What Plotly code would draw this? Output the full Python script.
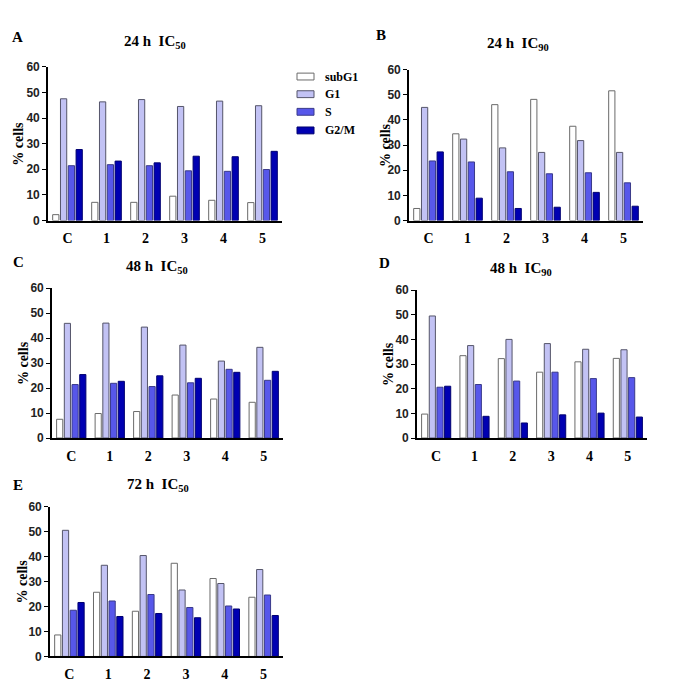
import plotly.graph_objects as go

W = H = 685

categories = ["C", "1", "2", "3", "4", "5"]
phases = ["subG1", "G1", "S", "G2/M"]

# Panel A: 24 h IC50
a_subG1 = [2.3, 7.1, 7.1, 9.5, 7.9, 7.0]
a_G1 = [47.5, 46.3, 47.2, 44.5, 46.6, 44.8]
a_S = [21.4, 21.8, 21.4, 19.4, 19.2, 19.9]
a_G2M = [27.7, 23.2, 22.5, 25.1, 24.9, 27.0]

# Panel B: 24 h IC90
b_subG1 = [4.8, 34.5, 46.1, 48.2, 37.5, 51.6]
b_G1 = [45.0, 32.4, 28.9, 27.1, 31.8, 27.1]
b_S = [23.7, 23.3, 19.4, 18.6, 19.0, 15.0]
b_G2M = [27.3, 8.9, 4.8, 5.3, 11.2, 5.7]

# Panel C: 48 h IC50
c_subG1 = [7.5, 9.8, 10.6, 17.2, 15.6, 14.3]
c_G1 = [45.9, 46.0, 44.4, 37.2, 30.8, 36.3]
c_S = [21.4, 21.9, 20.6, 22.1, 27.5, 23.1]
c_G2M = [25.4, 22.7, 24.9, 23.9, 26.3, 26.7]

# Panel D: 48 h IC90
d_subG1 = [9.7, 33.4, 32.2, 26.7, 30.9, 32.3]
d_G1 = [49.5, 37.5, 40.0, 38.3, 36.0, 35.8]
d_S = [20.6, 21.7, 23.1, 26.7, 24.1, 24.5]
d_G2M = [21.0, 8.8, 6.1, 9.4, 10.1, 8.5]

# Panel E: 72 h IC50
e_subG1 = [8.6, 25.7, 18.1, 37.3, 31.2, 23.7]
e_G1 = [50.5, 36.5, 40.4, 26.6, 29.2, 34.8]
e_S = [18.5, 22.2, 24.8, 19.6, 20.2, 24.6]
e_G2M = [21.6, 16.0, 17.2, 15.5, 19.0, 16.4]

panel_letters = ["A", "B", "C", "D", "E"]
panel_titles = ["24 h  IC<sub>50</sub>", "24 h  IC<sub>90</sub>", "48 h  IC<sub>50</sub>",
                "48 h  IC<sub>90</sub>", "72 h  IC<sub>50</sub>"]
y_ticks = [0, 10, 20, 30, 40, 50, 60]
y_title = "% cells"

panels_data = [
    [a_subG1, a_G1, a_S, a_G2M],
    [b_subG1, b_G1, b_S, b_G2M],
    [c_subG1, c_G1, c_S, c_G2M],
    [d_subG1, d_G1, d_S, d_G2M],
    [e_subG1, e_G1, e_S, e_G2M],
]

# styling
fill_colors = ["#ffffff", "#c2c2f4", "#5757ea", "#0000b2"]
line_colors = ["#6a6a6a", "#55556a", "#3a3a8a", "#000070"]

# pixel boxes (x0, x1, ytop, ybottom)
boxes = [
    (48, 282, 61, 218),
    (409, 643, 64, 218),
    (52, 283, 287, 440),
    (417, 647, 289, 440),
    (50, 283, 510, 663),
]
letter_pos = [(17, 31), (381, 29), (18, 260), (384, 261), (18, 488)]
title_pos = [(155, 36), (518, 38), (157, 265), (521, 267), (158, 488)]
ytitle_x = [19, 385, 23, 388, 23]

serif = "Liberation Serif"
sans = "Liberation Sans"

fig = go.Figure()
layout = dict(
    width=W, height=H, margin=dict(l=0, r=0, t=0, b=0),
    paper_bgcolor="white", plot_bgcolor="white",
    barmode="group", bargap=0.2, bargroupgap=0.2,
    showlegend=False,
)
annotations = []
shapes = []

for i, data in enumerate(panels_data):
    n = "" if i == 0 else str(i + 1)
    x0, x1, yt, yb = boxes[i]
    for j, vals in enumerate(data):
        fig.add_trace(go.Bar(
            x=categories, y=vals, name=phases[j],
            marker=dict(color=fill_colors[j], line=dict(color=line_colors[j], width=1)),
            xaxis="x" + n, yaxis="y" + n, showlegend=False,
        ))
    layout["xaxis" + n] = dict(
        domain=[x0 / W, x1 / W], anchor="y" + n,
        range=[-0.5, 5.5], showline=True, linecolor="black", linewidth=1.6,
        ticks="", showgrid=False, zeroline=False,
        tickfont=dict(family=serif, size=14, color="black", weight="bold"),
        ticklabelstandoff=4,
    )
    layout["yaxis" + n] = dict(
        domain=[1 - yb / H, 1 - yt / H], anchor="x" + n,
        range=[0, 60], tickvals=y_ticks, showline=True, linecolor="black", linewidth=1.6,
        ticks="outside", ticklen=4, tickwidth=1.3, tickcolor="black",
        showgrid=False, zeroline=False,
        tickfont=dict(family=sans, size=12, color="#222", weight="bold"),
    )
    lx, ly = letter_pos[i]
    annotations.append(dict(text=panel_letters[i], x=lx / W, y=1 - ly / H, xref="paper", yref="paper",
                            showarrow=False, xanchor="center", yanchor="middle",
                            font=dict(family=serif, size=15, color="black", weight="bold")))
    tx, ty = title_pos[i]
    annotations.append(dict(text=panel_titles[i], x=tx / W, y=1 - ty / H, xref="paper", yref="paper",
                            showarrow=False, xanchor="center", yanchor="middle",
                            font=dict(family=serif, size=15, color="black", weight="bold")))
    annotations.append(dict(text=y_title, x=ytitle_x[i] / W, y=1 - ((yt + yb) / 2) / H,
                            xref="paper", yref="paper", showarrow=False, textangle=-90,
                            xanchor="center", yanchor="middle",
                            font=dict(family=serif, size=14, color="black", weight="bold")))

# legend drawn manually
leg_y = [71, 89, 107, 126]
for j, name in enumerate(phases):
    cy = leg_y[j]
    shapes.append(dict(type="rect", xref="paper", yref="paper",
                       x0=297 / W, x1=314 / W, y0=1 - (cy + 3.5) / H, y1=1 - (cy - 3.5) / H,
                       fillcolor=fill_colors[j], line=dict(color=line_colors[j], width=1)))
    annotations.append(dict(text=name, x=323 / W, y=1 - cy / H, xref="paper", yref="paper",
                            showarrow=False, xanchor="left", yanchor="middle",
                            font=dict(family=serif, size=12, color="black", weight="bold")))

layout["annotations"] = annotations
layout["shapes"] = shapes
fig.update_layout(**layout)
fig.write_html("out.html", config={"displayModeBar": False},
               post_script="document.body.style.margin='0';document.body.style.overflow='hidden';")
